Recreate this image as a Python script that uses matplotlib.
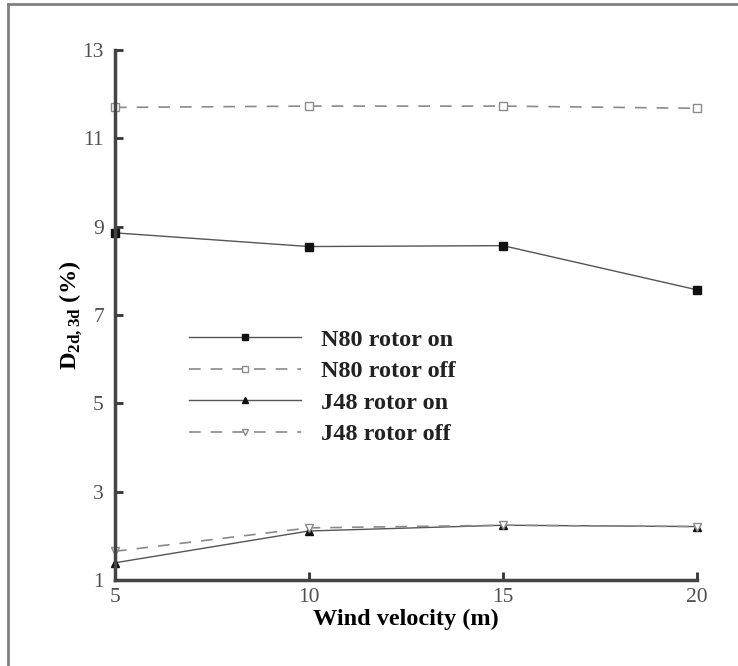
import numpy as np
import matplotlib
matplotlib.use('Agg')
import matplotlib.pyplot as plt
from matplotlib.lines import Line2D

wind = [5, 10, 15, 20]
n80_on = [8.86, 8.55, 8.57, 7.57]
n80_off = [11.70, 11.73, 11.73, 11.68]
j48_on = [1.39, 2.11, 2.24, 2.21]
j48_off = [1.65, 2.18, 2.24, 2.21]
yticks = [1, 3, 5, 7, 9, 11, 13]
xticks = [5, 10, 15, 20]

plt.rcParams['font.family'] = ['Liberation Serif', 'DejaVu Serif']
plt.rcParams['mathtext.fontset'] = 'custom'
plt.rcParams['mathtext.rm'] = 'Liberation Serif'
plt.rcParams['mathtext.bf'] = 'Liberation Serif:bold'

W, H = 738, 666
fig = plt.figure(figsize=(W/100, H/100), dpi=100)
ax = fig.add_axes([115/W, 1-580/H, (697-115)/W, (580-50)/H])

# gray frame (top + left)
fig.add_artist(Line2D([8/W, 1], [1-4/H, 1-4/H], color='#808080', lw=2))
fig.add_artist(Line2D([8/W, 8/W], [0, 1-4/H], color='#808080', lw=2))

k = '#111111'
g = '#8a8a8a'
ax.plot(wind, n80_on, '-', color='#555555', lw=1, marker='s', ms=6,
        mfc=k, mec=k, label='N80 rotor on')
ax.plot(wind, n80_off, '--', color=g, lw=1.2, dashes=(7, 6), marker='s', ms=6,
        mfc='white', mec=g, label='N80 rotor off')
ax.plot(wind, j48_on, '-', color='#555555', lw=1, marker='^', ms=6,
        mfc=k, mec=k, label='J48 rotor on')
ax.plot(wind, j48_off, '--', color=g, lw=1.2, dashes=(7, 6), marker='v', ms=6,
        mfc='white', mec=g, label='J48 rotor off')

ax.set_xlim(5, 20)
ax.set_ylim(1, 13)
ax.set_xticks(xticks)
ax.set_yticks(yticks)
for s in ['top', 'right']:
    ax.spines[s].set_visible(False)
for s in ['left', 'bottom']:
    ax.spines[s].set_linewidth(2.5)
    ax.spines[s].set_color('#444444')
    ax.spines[s].set_clip_on(False)
ax.tick_params(direction='in', length=6, width=2, color='#333333',
               labelsize=15.5, labelcolor='#505050', pad=8)
ax.tick_params(axis='x', pad=6)

ax.set_xlabel('Wind velocity (m)', fontsize=17.5, fontweight='bold', labelpad=1)
ax.set_ylabel(r'D$_{\mathbf{2d,3d}}$ (%)', fontsize=17.5, fontweight='bold', labelpad=0)

leg = ax.legend(loc='upper left', bbox_to_anchor=(0.09, 0.515), frameon=False,
                prop={'size': 17.5, 'weight': 'bold'}, handlelength=4.6,
                handletextpad=0.8, labelspacing=0.39, markerscale=0.8)
for t in leg.get_texts():
    t.set_color('#222222')

for l in ax.lines:
    l.set_clip_on(False)

fig.savefig('out.png', dpi=100)
